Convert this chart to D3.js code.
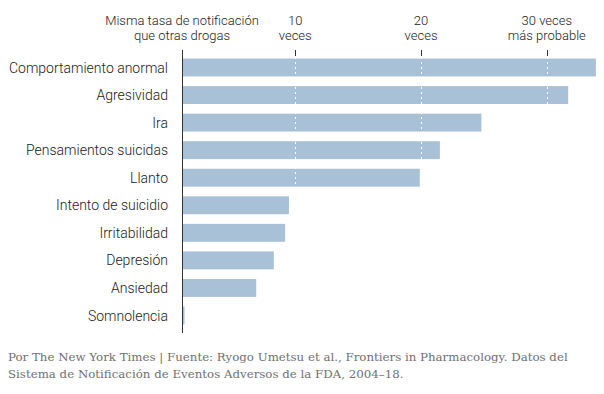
<!DOCTYPE html>
<html>
<head>
  <meta charset="utf-8">
  <title>Reporting odds</title>
  <style>
  body { margin: 0; background: #fff; }
  .cat-label {
    fill: #1a1a1a;
    font-family: Roboto, sans-serif;
    font-weight: 300;
    font-size: 14px;
    text-anchor: end;
  }
  .head-label {
    fill: #222;
    font-family: Roboto, sans-serif;
    font-weight: 300;
    font-size: 13px;
    text-anchor: middle;
  }
  .bar { fill: #a9c1d6; }
  .grid line {
    stroke: #fff;
    stroke-width: 1px;
    stroke-dasharray: 2,3;
  }
  .note {
    fill: #707070;
    font-family: "DejaVu Serif", serif;
    font-size: 11.8px;
  }
  </style>
</head>
<body>
  <div id="chart"></div>
  <script src="https://cdn.jsdelivr.net/npm/d3@7"></script>
  <script>
  // data (times more likely than other drugs)
  var categories = ["Comportamiento anormal", "Agresividad", "Ira", "Pensamientos suicidas", "Llanto",
    "Intento de suicidio", "Irritabilidad", "Depresión", "Ansiedad", "Somnolencia"];
  var values = [33.9, 31.7, 24.8, 21.5, 19.9, 9.5, 9.2, 8.3, 6.9, 1.2];
  var tickValues = [1, 10, 20, 30];
  var tickLabels = [["Misma tasa de notificación", "que otras drogas"], ["10", "veces"], ["20", "veces"], ["30 veces", "más probable"]];
  var noteLines = ["Por The New York Times | Fuente: Ryogo Umetsu et al., Frontiers in Pharmacology. Datos del",
    "Sistema de Notificación de Eventos Adversos de la FDA, 2004–18."];

  var width = 604, height = 394;

  var svg = d3.select("#chart")
    .append("svg")
    .attr("width", width)
    .attr("height", height);

  var x = d3.scaleLinear()
    .domain([1, 34])
    .range([182, 182 + 33 * 12.58]);

  var y = d3.scaleBand()
    .domain(categories)
    .range([50, 333])
    .paddingInner(0.35)
    .paddingOuter(0.31);

  var data = categories.map(function(c, i) { return {cat: c, val: values[i]}; });

  //bars
  svg.selectAll(".bar")
    .data(data)
    .enter().append("rect")
    .attr("class", "bar")
    .attr("x", x(1))
    .attr("y", function(d) { return y(d.cat); })
    .attr("width", function(d) { return x(d.val) - x(1); })
    .attr("height", y.bandwidth());

  //white dotted lines through the bars
  svg.append("g")
    .attr("class", "grid")
    .selectAll("line")
    .data(tickValues.slice(1))
    .enter().append("line")
    .attr("x1", function(d) { return Math.round(x(d)) + 0.5; })
    .attr("x2", function(d) { return Math.round(x(d)) + 0.5; })
    .attr("y1", 57)
    .attr("y2", 333);

  //tick marks on top
  svg.append("g")
    .selectAll("line")
    .data(tickValues.slice(1))
    .enter().append("line")
    .attr("x1", function(d) { return Math.round(x(d)) + 0.5; })
    .attr("x2", function(d) { return Math.round(x(d)) + 0.5; })
    .attr("y1", 50)
    .attr("y2", 56)
    .attr("stroke", "#333");

  //baseline
  svg.append("line")
    .attr("x1", Math.round(x(1)) + 0.5)
    .attr("x2", Math.round(x(1)) + 0.5)
    .attr("y1", 50)
    .attr("y2", 333)
    .attr("stroke", "#333");

  //header labels
  var head = svg.append("g").selectAll("text")
    .data(tickValues)
    .enter().append("text")
    .attr("class", "head-label")
    .attr("x", function(d) { return x(d); })
    .attr("y", 25);
  head.selectAll("tspan")
    .data(function(d, i) { return tickLabels[i]; })
    .enter().append("tspan")
    .attr("x", function() { return d3.select(this.parentNode).attr("x"); })
    .attr("dy", function(d, i) { return i ? 15 : 0; })
    .text(function(d) { return d; });

  //category labels
  svg.append("g").selectAll("text")
    .data(categories)
    .enter().append("text")
    .attr("class", "cat-label")
    .attr("x", 168)
    .attr("y", function(d) { return y(d) + y.bandwidth() / 2; })
    .attr("dy", "0.36em")
    .text(function(d) { return d; });

  //source note
  svg.append("g").selectAll("text")
    .data(noteLines)
    .enter().append("text")
    .attr("class", "note")
    .attr("x", 8)
    .attr("y", function(d, i) { return 361 + i * 17; })
    .text(function(d) { return d; });
  </script>
</body>
</html>
